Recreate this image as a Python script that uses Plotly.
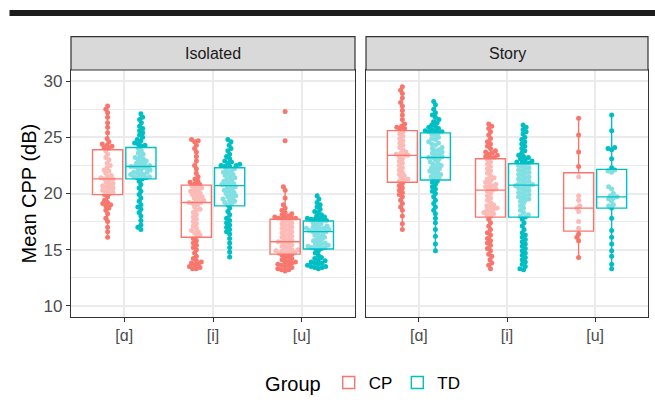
import math
import plotly.graph_objects as go

# ---------------- data ----------------
categories = ["[ɑ]", "[i]", "[u]"]
facets = ["Isolated", "Story"]
groups = ["CP", "TD"]

# Mean CPP values (dB), per facet / vowel / group
iso_a_cp = [27.8, 27.5, 27.2, 26.8, 26.3, 25.9, 25.4, 24.9, 24.6, 24.4, 24.3, 24.2, 24.1, 24.0,
            23.8, 23.5, 23.2, 23.0, 22.7, 22.5, 22.3, 22.1, 22.0, 21.8, 21.6, 21.5, 21.4, 21.3, 21.3,
            21.2, 21.0, 20.9, 20.8, 20.7, 20.6, 20.5, 20.4, 20.3, 20.2, 20.1, 20.0, 19.9,
            19.7, 19.4, 19.2, 19.1, 19.0, 18.9, 18.7, 18.5, 18.2, 17.8, 17.5, 17.0, 16.6, 16.1]
iso_a_td = [27.1, 26.8, 26.6, 26.3, 26.0, 25.8, 25.6, 25.4, 25.2, 25.0, 24.8, 24.7, 24.5, 24.4, 24.3, 24.2,
            24.0, 23.8, 23.6, 23.5, 23.3, 23.2, 23.1, 23.0, 22.9, 22.8, 22.7, 22.6, 22.5, 22.5, 22.4, 22.4,
            22.3, 22.3, 22.2, 22.1, 22.0, 21.9, 21.9, 21.8, 21.7, 21.7, 21.6, 21.5, 21.5, 21.4, 21.4, 21.3,
            21.1, 20.8, 20.5, 20.2, 19.9, 19.6, 19.3, 19.0, 18.8, 18.6, 18.3, 18.0, 17.6, 17.2, 17.0, 16.8]
iso_i_cp = [24.8, 24.7, 24.6, 24.3, 24.0, 23.7, 23.3, 22.9, 22.5, 22.2, 21.8, 21.5, 21.3, 21.1, 21.0, 20.9, 20.8,
            20.7, 20.6, 20.5, 20.4, 20.3, 20.2, 20.1, 20.0, 19.9, 19.8, 19.7, 19.6, 19.5, 19.4, 19.3, 19.2,
            19.2, 19.1, 19.0, 18.8, 18.6, 18.5, 18.3, 18.1, 17.9, 17.7, 17.5, 17.3, 17.1, 16.9, 16.7, 16.6,
            16.5, 16.3, 16.2,
            16.0, 15.8, 15.6, 15.4, 15.2, 15.0, 14.7, 14.4, 14.2, 14.0, 13.9, 13.8, 13.7, 13.6, 13.5, 13.4,
            13.3, 13.3]
iso_i_td = [24.8, 24.6, 24.3, 24.0, 23.8, 23.5, 23.3, 23.1, 22.9, 22.8, 22.7, 22.6, 22.5, 22.5, 22.4, 22.4,
            22.2, 22.1, 22.0, 21.9, 21.8, 21.7, 21.6, 21.5, 21.4, 21.3, 21.2, 21.1, 21.0, 20.9, 20.8, 20.8,
            20.7, 20.6, 20.5, 20.4, 20.3, 20.2, 20.1, 20.0, 19.9, 19.8, 19.7, 19.6, 19.5, 19.4, 19.3, 19.2,
            19.1, 19.0,
            18.7, 18.4, 18.1, 17.8, 17.6, 17.4, 17.2, 17.0, 16.8, 16.6, 16.4, 16.0, 15.6, 15.2, 14.8, 14.35]
iso_u_cp = [27.3, 24.7, 20.6, 20.3, 19.6, 19.0, 18.7, 18.5, 18.3, 18.2, 18.1, 18.0, 17.9, 17.9, 17.8, 17.8,
            17.8, 17.7,
            17.6, 17.5, 17.4, 17.3, 17.2, 17.1, 17.0, 16.9, 16.8, 16.7, 16.6, 16.5, 16.4, 16.3, 16.2, 16.1,
            16.0, 15.9, 15.8, 15.7, 15.7, 15.6, 15.5, 15.4, 15.3, 15.2, 15.1, 15.0, 15.0, 14.9, 14.9, 14.8,
            14.8, 14.7, 14.7, 14.6,
            14.5, 14.4, 14.3, 14.2, 14.1, 14.0, 13.9, 13.9, 13.8, 13.7, 13.6, 13.6, 13.5, 13.4, 13.3, 13.2,
            13.2, 13.1]
iso_u_td = [19.8, 19.5, 19.2, 19.0, 18.8, 18.6, 18.4, 18.3, 18.1, 18.0, 17.9, 17.8, 17.8, 17.7, 17.7, 17.6,
            17.6,
            17.5, 17.4, 17.3, 17.2, 17.1, 17.0, 17.0, 16.9, 16.9, 16.8, 16.8, 16.7, 16.7, 16.6, 16.6, 16.5,
            16.4, 16.3, 16.2, 16.1, 16.0, 15.9, 15.8, 15.7, 15.6, 15.5, 15.5, 15.4, 15.3, 15.3, 15.2, 15.2,
            15.1, 15.1,
            14.9, 14.7, 14.5, 14.3, 14.2, 14.1, 14.0, 13.9, 13.8, 13.8, 13.7, 13.6, 13.5, 13.5, 13.4, 13.4,
            13.3]
sto_a_cp = [29.5, 29.2, 28.9, 28.5, 28.1, 27.8, 27.4, 27.0, 26.6, 26.2, 26.0, 25.9, 25.8, 25.7,
            25.5, 25.3, 25.1, 24.9, 24.7, 24.5, 24.3, 24.1, 23.9, 23.7, 23.6, 23.5, 23.4, 23.4, 23.3, 23.1,
            22.9, 22.7, 22.5, 22.3, 22.1, 21.9, 21.7, 21.6, 21.4, 21.3, 21.2, 21.1,
            20.9, 20.7, 20.5, 20.3, 20.1, 19.9, 19.7, 19.4, 19.1, 18.8, 18.5, 18.0, 17.3, 16.8]
sto_a_td = [28.2, 27.9, 27.5, 27.2, 27.0, 26.8, 26.6, 26.4, 26.3, 26.1, 26.0, 25.9, 25.8, 25.7, 25.6, 25.6,
            25.5, 25.5, 25.4,
            25.3, 25.2, 25.0, 24.9, 24.8, 24.6, 24.5, 24.4, 24.3, 24.1, 24.0, 23.9, 23.8, 23.7, 23.6, 23.5,
            23.4, 23.3, 23.2, 23.2, 23.1, 23.0, 22.8, 22.7, 22.6, 22.5, 22.4, 22.3, 22.2, 22.1, 22.0, 21.9,
            21.8, 21.7, 21.6, 21.5, 21.4, 21.3,
            21.1, 21.0, 20.8, 20.6, 20.4, 20.2, 20.0, 19.7, 19.4, 19.1, 18.8, 18.5, 18.2, 17.8, 17.4, 16.8,
            16.2, 15.5, 14.9]
sto_i_cp = [26.2, 26.0, 25.8, 25.5, 25.2, 24.9, 24.6, 24.4, 24.2, 24.0, 23.8, 23.7, 23.6, 23.5, 23.4, 23.3,
            23.2, 23.2,
            23.0, 22.8, 22.6, 22.4, 22.2, 22.0, 21.8, 21.6, 21.4, 21.3, 21.2, 21.0, 20.9, 20.8, 20.7, 20.6,
            20.5, 20.4, 20.3, 20.2, 20.0, 19.8, 19.6, 19.4, 19.2, 19.0, 18.9, 18.8, 18.7, 18.6, 18.5, 18.4,
            18.3, 18.2, 18.1, 18.0,
            17.7, 17.4, 17.1, 16.8, 16.5, 16.3, 16.0, 15.8, 15.6, 15.4, 15.1, 14.9, 14.6, 14.4, 14.1, 13.8,
            13.6, 13.3]
sto_i_td = [26.1, 25.9, 25.7, 25.5, 25.3, 25.0, 24.8, 24.6, 24.4, 24.2, 24.0, 23.8, 23.6, 23.4, 23.3, 23.2,
            23.1, 23.0, 22.9, 22.8, 22.8, 22.7,
            22.6, 22.5, 22.4, 22.3, 22.2, 22.1, 22.0, 21.9, 21.8, 21.7, 21.6, 21.5, 21.4, 21.3, 21.2, 21.1,
            21.0, 20.9, 20.8, 20.8, 20.7, 20.7, 20.6, 20.5, 20.4, 20.3, 20.2, 20.1, 20.0, 19.9, 19.8, 19.7,
            19.6, 19.5, 19.4, 19.3, 19.1, 18.9, 18.7, 18.5, 18.3, 18.1, 18.0, 17.9,
            17.7, 17.4, 17.1, 16.8, 16.5, 16.3, 16.1, 15.9, 15.7, 15.5, 15.3, 15.1, 14.9, 14.7, 14.5, 14.3,
            14.1, 13.9, 13.7, 13.5, 13.3, 13.2]
sto_u_cp = [26.7, 25.2, 23.7, 22.4, 21.5, 19.8, 19.4, 18.9, 18.7, 18.4, 17.5, 16.9, 16.4, 16.1, 15.8, 14.3]
sto_u_td = [27.0, 25.6, 24.1, 24.0, 23.9, 23.1, 22.3, 22.1, 22.0, 21.9, 20.6, 20.4, 20.0, 19.8, 19.7, 19.6,
            19.5, 19.3, 19.0, 18.9, 18.7, 17.8, 16.7, 16.1, 15.5, 14.9, 14.4, 13.7, 13.3]

# Box-plot statistics (order: [ɑ], [i], [u])
iso_cp_lo = [16.1, 13.3, 13.1]
iso_cp_q1 = [19.9, 16.1, 14.6]
iso_cp_med = [21.3, 19.2, 15.7]
iso_cp_q3 = [23.9, 20.75, 17.7]
iso_cp_hi = [27.8, 24.8, 20.55]
iso_td_lo = [16.8, 14.35, 13.3]
iso_td_q1 = [21.3, 18.9, 15.05]
iso_td_med = [22.4, 20.7, 16.6]
iso_td_q3 = [24.1, 22.3, 17.55]
iso_td_hi = [27.1, 24.8, 19.8]
sto_cp_lo = [16.8, 13.3, 14.3]
sto_cp_q1 = [21.0, 17.9, 16.65]
sto_cp_med = [23.4, 20.3, 18.7]
sto_cp_q3 = [25.6, 23.1, 21.85]
sto_cp_hi = [29.5, 26.2, 26.7]
sto_td_lo = [14.9, 13.2, 13.3]
sto_td_q1 = [21.2, 17.9, 18.7]
sto_td_med = [23.2, 20.75, 19.7]
sto_td_q3 = [25.4, 22.65, 22.15]
sto_td_hi = [28.2, 26.1, 27.0]

points = {
    ("Isolated", "CP"): [iso_a_cp, iso_i_cp, iso_u_cp],
    ("Isolated", "TD"): [iso_a_td, iso_i_td, iso_u_td],
    ("Story", "CP"): [sto_a_cp, sto_i_cp, sto_u_cp],
    ("Story", "TD"): [sto_a_td, sto_i_td, sto_u_td],
}
boxes = {
    ("Isolated", "CP"): (iso_cp_lo, iso_cp_q1, iso_cp_med, iso_cp_q3, iso_cp_hi),
    ("Isolated", "TD"): (iso_td_lo, iso_td_q1, iso_td_med, iso_td_q3, iso_td_hi),
    ("Story", "CP"): (sto_cp_lo, sto_cp_q1, sto_cp_med, sto_cp_q3, sto_cp_hi),
    ("Story", "TD"): (sto_td_lo, sto_td_q1, sto_td_med, sto_td_q3, sto_td_hi),
}

# ---------------- style ----------------
colors = {"CP": "#F8766D", "TD": "#00BFC4"}
dodge = {"CP": -0.1875, "TD": 0.1875}
box_w = 0.34
PX_PER_Y = 11.21   # pixels per dB on screen
PX_PER_X = 88.8    # pixels per category unit on screen
DOT = 3.8          # beeswarm spacing in px


def swarm(vals):
    """Beeswarm horizontal offsets (category units) for a list of values."""
    order = sorted(range(len(vals)), key=lambda i: vals[i])
    placed = []
    xs = [0.0] * len(vals)
    for i in order:
        y = vals[i] * PX_PER_Y
        near = [(px, py) for px, py in placed if abs(py - y) < DOT]
        cands = [0.0]
        for px, py in near:
            dx = math.sqrt(max(DOT ** 2 - (py - y) ** 2, 0))
            cands += [px + dx, px - dx]
        cands.sort(key=lambda c: (abs(c), c))
        for c in cands:
            if all((c - px) ** 2 + (y - py) ** 2 >= DOT ** 2 - 1e-6 for px, py in near):
                xs[i] = c
                placed.append((c, y))
                break
    return [x / PX_PER_X for x in xs]


fig = go.Figure()
pt_axes = {"Isolated": ("x", "y"), "Story": ("x2", "y2")}
box_axes = {"Isolated": ("x3", "y3"), "Story": ("x4", "y4")}   # overlay axes: boxes drawn above points

for f in facets:
    xa, ya = pt_axes[f]
    for g in groups:
        xs, ys = [], []
        for ci, vals in enumerate(points[(f, g)]):
            offs = swarm(vals)
            xs += [ci + 1 + dodge[g] + o for o in offs]
            ys += vals
        fig.add_trace(go.Scatter(x=xs, y=ys, mode="markers", xaxis=xa, yaxis=ya,
                                 marker=dict(color=colors[g], size=5, line=dict(width=0)),
                                 showlegend=False, hoverinfo="y"))

for f in facets:
    xa, ya = box_axes[f]
    for g in groups:
        lo, q1, med, q3, hi = boxes[(f, g)]
        fig.add_trace(go.Box(x=[i + 1 + dodge[g] for i in range(3)], q1=q1, median=med, q3=q3,
                             lowerfence=lo, upperfence=hi, xaxis=xa, yaxis=ya,
                             name=g, legendgroup=g, showlegend=(f == "Isolated"),
                             width=box_w, whiskerwidth=0, boxpoints=False,
                             line=dict(color=colors[g], width=1.4),
                             fillcolor="rgba(255,255,255,0.5)"))

FONT = "Liberation Sans, Arial, Helvetica, sans-serif"
grid = "#EBEBEB"
border = "#333333"
XR = [0.4, 3.6]
YR = [9, 31]

xcommon = dict(range=XR, tickmode="array", tickvals=[1, 2, 3], ticktext=categories,
               showgrid=True, gridcolor=grid, gridwidth=1.5, zeroline=False,
               showline=True, linecolor=border, linewidth=1.2, mirror=True,
               ticks="outside", ticklen=4, tickcolor=border, tickwidth=1.2,
               tickfont=dict(size=16, color="#4D4D4D", family=FONT), fixedrange=True,
               automargin=False)
ycommon = dict(range=YR, tick0=0, dtick=5, showgrid=True, gridcolor=grid, gridwidth=1.5,
               zeroline=False, showline=True, linecolor=border, linewidth=1.2, mirror=True,
               minor=dict(tick0=0, dtick=2.5, showgrid=True, gridcolor=grid, gridwidth=0.8, ticks=""),
               fixedrange=True, automargin=False)
overlay = dict(visible=False, showgrid=False, zeroline=False, fixedrange=True)

fig.update_layout(
    width=655, height=407,
    margin=dict(l=71, r=7, t=70, b=90, autoexpand=False),
    paper_bgcolor="white", plot_bgcolor="white",
    font=dict(family=FONT, color="black"),
    xaxis=dict(domain=[0, 0.4922], anchor="y", **xcommon),
    xaxis2=dict(domain=[0.5113, 1], anchor="y2", **xcommon),
    yaxis=dict(anchor="x", ticks="outside", ticklen=4, tickcolor=border, tickwidth=1.2,
               tickfont=dict(size=17, color="#4D4D4D", family=FONT), **ycommon),
    yaxis2=dict(anchor="x2", matches="y", showticklabels=False, ticks="", **ycommon),
    xaxis3=dict(overlaying="x", anchor="y3", range=XR, **overlay),
    yaxis3=dict(overlaying="y", anchor="x3", range=YR, **overlay),
    xaxis4=dict(overlaying="x2", anchor="y4", range=XR, **overlay),
    yaxis4=dict(overlaying="y2", anchor="x4", range=YR, **overlay),
    legend=dict(orientation="h", x=0.508, xanchor="center", y=-0.267, yanchor="middle",
                title=dict(text="Group", side="left", font=dict(size=20, color="black")),
                font=dict(size=17, color="black"), itemwidth=30, bgcolor="rgba(0,0,0,0)"),
    showlegend=True,
)

shapes = [dict(type="rect", xref="paper", yref="paper", x0=-0.1066, x1=1.02, y0=1.2186, y1=1.2429,
               fillcolor="#1C1C1C", line=dict(width=0))]
annotations = []
for f in facets:
    xa = pt_axes[f][0]
    shapes.append(dict(type="rect", xref=f"{xa} domain", yref="paper", x0=0, x1=1, y0=1.0, y1=1.1348,
                       fillcolor="#D9D9D9", line=dict(color=border, width=1.2)))
    annotations.append(dict(text=f, xref=f"{xa} domain", yref="paper", x=0.5, y=1.0674,
                            showarrow=False, xanchor="center", yanchor="middle",
                            font=dict(size=16, color="#1A1A1A", family=FONT)))
annotations.append(dict(text="Mean CPP (dB)", xref="paper", yref="paper", x=-0.0745, y=0.5,
                        textangle=-90, showarrow=False, xanchor="center", yanchor="middle",
                        font=dict(size=20, color="black", family=FONT)))
fig.update_layout(shapes=shapes, annotations=annotations)

fig.write_html("out.html", config={"displayModeBar": False},
               post_script="document.body.style.margin='0';document.body.style.overflow='hidden';")
